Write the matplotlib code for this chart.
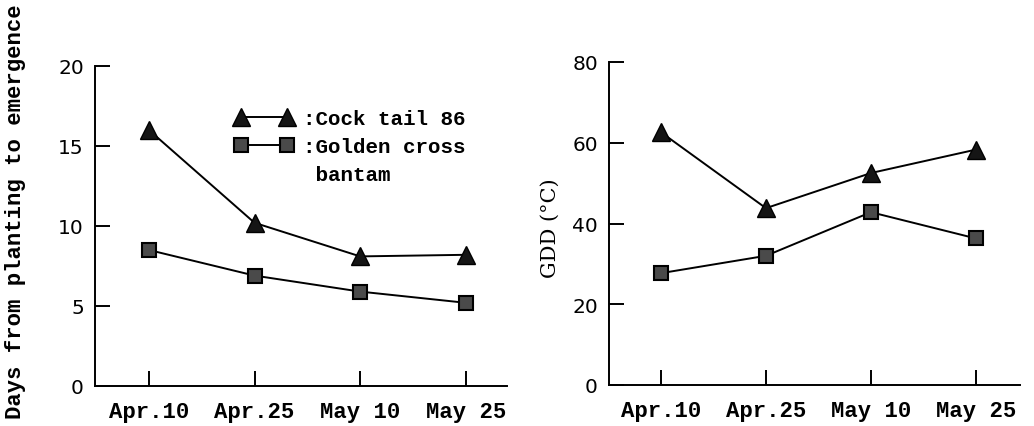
import matplotlib
matplotlib.use("Agg")
import matplotlib.pyplot as plt
from matplotlib.lines import Line2D

dates = ["Apr.10", "Apr.25", "May 10", "May 25"]
days_cocktail = [16.0, 10.2, 8.1, 8.2]
days_golden = [8.5, 6.9, 5.9, 5.2]
gdd_cocktail = [62.6, 43.8, 52.5, 58.3]
gdd_golden = [27.7, 32.0, 42.8, 36.3]
days_yticks = [0, 5, 10, 15, 20]
gdd_yticks = [0, 20, 40, 60, 80]

mono = "Liberation Mono"
x = list(range(len(dates)))

fig = plt.figure(figsize=(10.34, 4.27), dpi=100)
ax1 = fig.add_axes([95/1034, 40/427, 412/1034, 320/427])
ax2 = fig.add_axes([609/1034, 41/427, 411/1034, 323/427])

tri_kw = dict(color="black", lw=1.4, marker="^", markersize=13,
              markerfacecolor="#151515", markeredgecolor="black")
sq_kw = dict(color="black", lw=1.4, marker="s", markersize=10.5,
             markerfacecolor="#4a4a4a", markeredgecolor="black", markeredgewidth=1.5)

for ax, c, g, yt, xl in [(ax1, days_cocktail, days_golden, days_yticks, (-0.51, 3.39)),
                          (ax2, gdd_cocktail, gdd_golden, gdd_yticks, (-0.495, 3.42))]:
    ax.plot(x, c, **tri_kw)
    ax.plot(x, g, **sq_kw)
    ax.set_xlim(*xl)
    ax.set_ylim(yt[0], yt[-1])
    ax.set_yticks(yt)
    ax.set_xticks(x)
    ax.set_xticklabels(dates, family=mono, fontsize=16, fontweight="bold")
    for lab in ax.get_yticklabels():
        lab.set_fontfamily("DejaVu Sans")
        lab.set_fontsize(14.5)
    ax.tick_params(axis="both", direction="in", length=11, width=1.4, color="black")
    ax.tick_params(axis="y", pad=8)
    ax.tick_params(axis="x", pad=11)
    for s in ("top", "right"):
        ax.spines[s].set_visible(False)
    for s in ("left", "bottom"):
        ax.spines[s].set_linewidth(1.4)

ax1.set_ylabel("Days from planting to emergence", family=mono, fontsize=16, fontweight="bold")
ax1.yaxis.set_label_coords(-0.168, 0.547)
ax2.set_ylabel("GDD (\u00b0C)", family="DejaVu Serif", fontsize=15)
ax2.yaxis.set_label_coords(-0.12, 0.49)

handles = [Line2D([], [], **tri_kw), Line2D([], [], **sq_kw), Line2D([], [], lw=0, marker=None)]
labels = [":Cock tail 86", ":Golden cross", " bantam"]
leg = ax1.legend(handles, labels, loc="upper left", bbox_to_anchor=(0.34, 0.865),
                 frameon=False, numpoints=2, handlelength=2.8, handletextpad=0.45,
                 labelspacing=0.42, borderpad=0, borderaxespad=0,
                 prop=dict(family=mono, size=15, weight="bold"))

fig.savefig("out.png", dpi=100)
